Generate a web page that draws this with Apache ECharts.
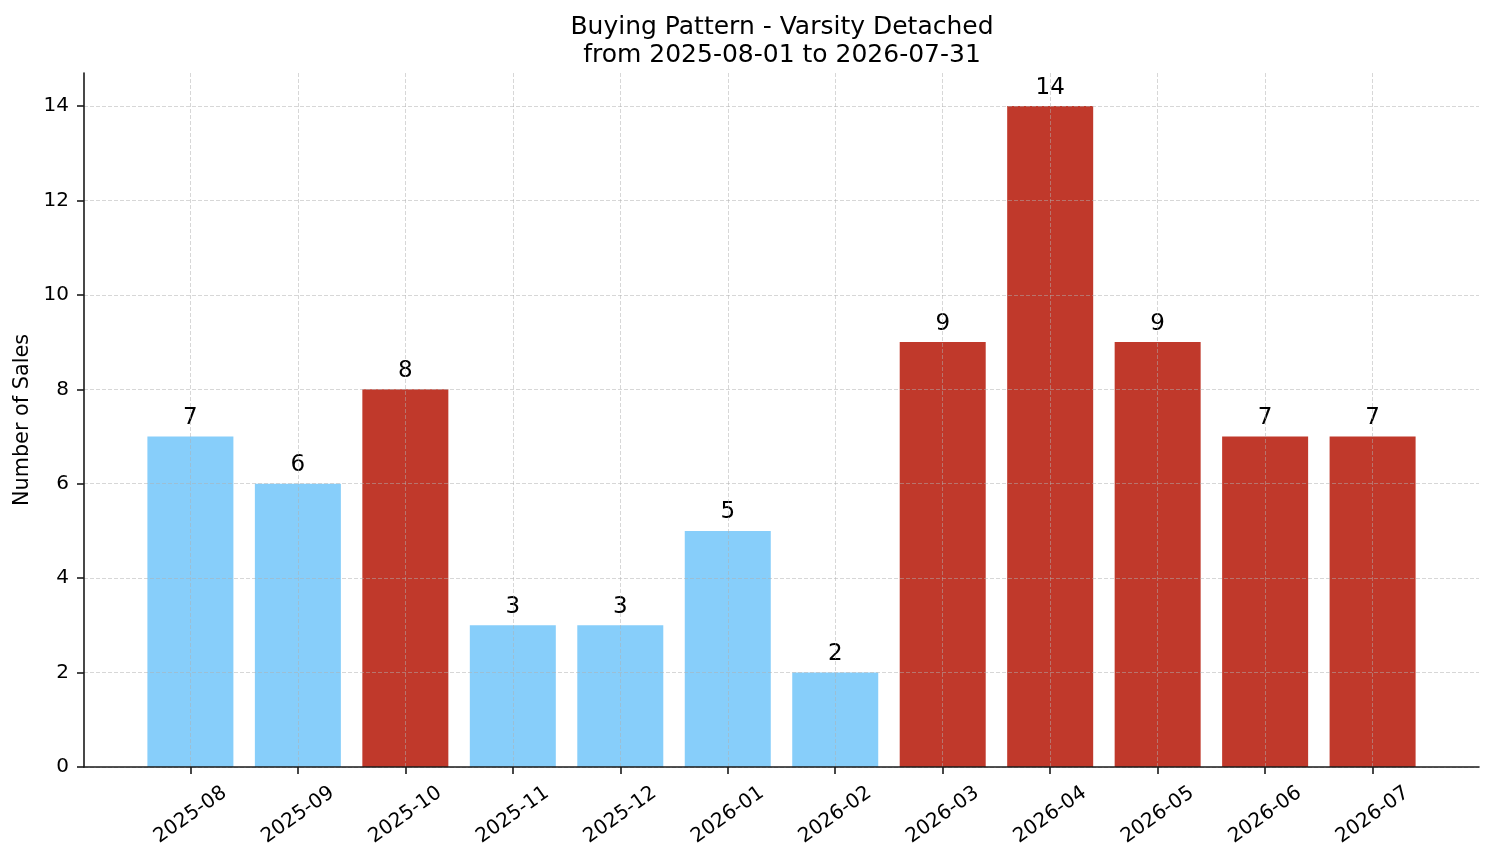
<!DOCTYPE html>
<html>
<head>
<meta charset="utf-8">
<script src="https://cdn.jsdelivr.net/npm/echarts@6/dist/echarts.min.js"></script>
<style>
    html, body { margin: 0; padding: 0; background: #fff; }
    #main { width: 1494px; height: 863px; }
</style>
</head>
<body>
<div id="main"></div>
<script>
// 月份与销量
const months = ['2025-08', '2025-09', '2025-10', '2025-11', '2025-12', '2026-01',
    '2026-02', '2026-03', '2026-04', '2026-05', '2026-06', '2026-07'];
const sales = [7, 6, 8, 3, 3, 5, 2, 9, 14, 9, 7, 7];
// 旺季月份（红色）
const peak = [false, false, true, false, false, false, false, true, true, true, true, true];
const yTicks = [0, 2, 4, 6, 8, 10, 12, 14];

const FONT = 'DejaVu Sans';
const positions = months.map((m, i) => i);
const gridColor = 'rgba(176,176,176,0.5)';

const chart = echarts.init(document.getElementById('main'));

let option = {
    animation: false,
    textStyle: { fontFamily: FONT },
    title: {
        text: 'Buying Pattern - Varsity Detached\nfrom 2025-08-01 to 2026-07-31',
        left: 777,
        textAlign: 'center',
        top: 8,
        textStyle: {
            fontFamily: FONT,
            fontWeight: 'normal',
            fontSize: 25,
            lineHeight: 28,
            color: '#000'
        }
    },
    grid: {
        left: 84,
        right: 15,
        top: 73,
        bottom: 96,
        containLabel: false
    },
    xAxis: {
        type: 'value',
        min: -0.99,
        max: 11.99,
        z: 3,
        axisLine: { show: true, onZero: false, lineStyle: { color: '#1a1a1a', width: 1.6 } },
        axisTick: {
            show: true,
            customValues: positions,
            length: 7,
            lineStyle: { color: '#1a1a1a', width: 1.6 }
        },
        axisLabel: {
            customValues: positions,
            rotate: 35,
            align: 'center',
            verticalAlign: 'middle',
            fontSize: 20,
            color: '#000',
            margin: 48,
            formatter: function (v) {
                return months[Math.round(v)] || '';
            }
        },
        splitLine: {
            show: true,
            lineStyle: { color: gridColor, type: [4, 2], width: 1 }
        }
    },
    yAxis: {
        type: 'value',
        min: 0,
        max: 14.7,
        z: 3,
        name: 'Number of Sales',
        nameLocation: 'middle',
        nameGap: 49,
        nameTextStyle: { fontSize: 20.8, color: '#000' },
        axisLine: { show: true, onZero: false, lineStyle: { color: '#1a1a1a', width: 1.6 } },
        axisTick: {
            show: true,
            customValues: yTicks,
            length: 7,
            lineStyle: { color: '#1a1a1a', width: 1.6 }
        },
        axisLabel: {
            customValues: yTicks,
            fontSize: 20,
            color: '#000',
            margin: 15
        },
        splitLine: {
            show: true,
            lineStyle: { color: gridColor, type: [4, 2], width: 1 }
        }
    },
    series: [{
        type: 'bar',
        barWidth: 86,
        data: sales.map((v, i) => ({
            value: [i, v],
            itemStyle: { color: peak[i] ? '#c0392b' : '#87cefa' }
        })),
        label: {
            show: true,
            position: 'top',
            distance: 7,
            fontSize: 23,
            color: '#000',
            formatter: function (params) {
                return params.value[1];
            }
        }
    }]
};
chart.setOption(option);
</script>
</body>
</html>
